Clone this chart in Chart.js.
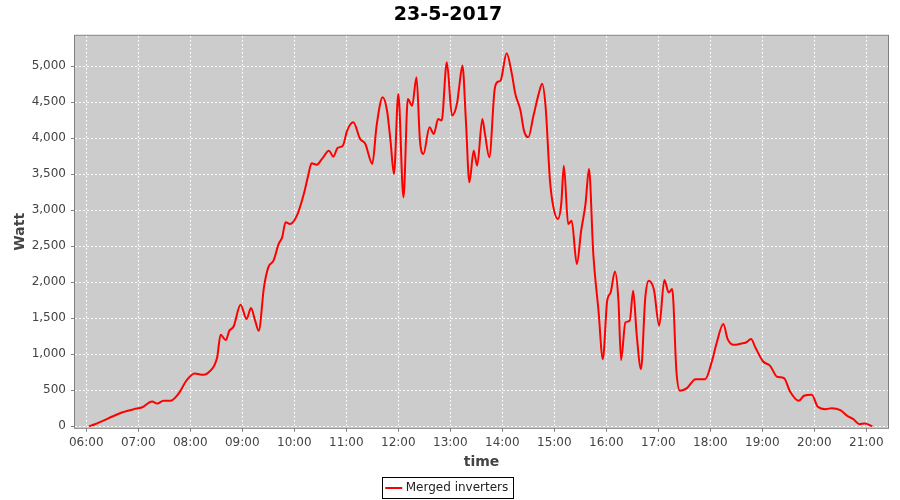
<!DOCTYPE html>
<html>
<head>
<meta charset="utf-8">
<script src="https://cdn.jsdelivr.net/npm/chart.js@4.4.0/dist/chart.umd.min.js"></script>
<style>
  html, body { margin: 0; padding: 0; background: #ffffff; }
  #wrap { width: 900px; height: 500px; }
</style>
</head>
<body>
<div id="wrap"><canvas id="myChart" width="900" height="500"></canvas></div>
<script>
// sample times (HH:MM) and power readings
const times = [
  "06:03", "06:10", "06:26", "06:41", "06:55", "07:04", "07:16", "07:22", "07:29", "07:37",
  "07:46", "07:56", "08:05", "08:15", "08:21", "08:31", "08:35", "08:41", "08:45", "08:50",
  "08:58", "09:05", "09:10", "09:15", "09:19", "09:25", "09:30", "09:36", "09:42", "09:46",
  "09:50", "09:55", "10:03", "10:11", "10:16", "10:20", "10:26", "10:32", "10:40", "10:45",
  "10:50", "10:56", "11:01", "11:08", "11:16", "11:22", "11:30", "11:35", "11:42", "11:47",
  "11:51", "11:55", "12:00", "12:06", "12:11", "12:16", "12:21", "12:25", "12:29", "12:36",
  "12:41", "12:46", "12:50", "12:56", "13:02", "13:08", "13:10", "13:14", "13:18", "13:22",
  "13:27", "13:31", "13:37", "13:40", "13:45", "13:51", "13:54", "13:58", "14:05", "14:11",
  "14:15", "14:21", "14:25", "14:30", "14:36", "14:42", "14:46", "14:50", "14:55", "14:59",
  "15:04", "15:08", "15:11", "15:16", "15:20", "15:26", "15:31", "15:36", "15:40", "15:45",
  "15:51", "15:56", "16:01", "16:05", "16:10", "16:14", "16:17", "16:22", "16:27", "16:31",
  "16:35", "16:40", "16:45", "16:49", "16:55", "17:01", "17:07", "17:12", "17:16", "17:21",
  "17:25", "17:33", "17:43", "17:54", "18:02", "18:07", "18:15", "18:20", "18:27", "18:36",
  "18:41", "18:47", "18:52", "19:01", "19:09", "19:17", "19:25", "19:32", "19:42", "19:48",
  "19:57", "20:04", "20:13", "20:20", "20:30", "20:38", "20:45", "20:52", "20:58", "21:07",
];
const watts = [
  0, 30, 114, 192, 239, 261, 344, 317, 354, 354,
  447, 642, 733, 715, 747, 956, 1271, 1197, 1326, 1386,
  1688, 1489, 1641, 1460, 1326, 1928, 2206, 2299, 2531, 2622,
  2831, 2808, 2924, 3225, 3479, 3650, 3632, 3711, 3826, 3743,
  3864, 3896, 4104, 4219, 3989, 3919, 3642, 4174, 4567, 4382,
  3965, 3503, 4614, 3178, 4544, 4451, 4844, 3965, 3781, 4150,
  4058, 4267, 4243, 5053, 4313, 4497, 4683, 5007, 4243, 3386,
  3826, 3618, 4267, 4058, 3733, 4660, 4775, 4799, 5178, 4891,
  4614, 4382, 4104, 4011, 4313, 4614, 4753, 4428, 3410, 3039,
  2878, 3086, 3618, 2808, 2854, 2253, 2715, 3086, 3572, 2392,
  1604, 933, 1743, 1858, 2150, 1743, 919, 1442, 1465, 1882,
  1280, 794, 1789, 2021, 1892, 1396, 2031, 1858, 1906, 747,
  493, 530, 655, 655, 910, 1142, 1419, 1211, 1132, 1150,
  1164, 1211, 1094, 900, 840, 688, 669, 483, 354, 424,
  438, 271, 239, 253, 225, 146, 100, 31, 39, 3,
];
const hourTicks = ["06:00", "07:00", "08:00", "09:00", "10:00", "11:00", "12:00", "13:00",
  "14:00", "15:00", "16:00", "17:00", "18:00", "19:00", "20:00", "21:00"];
const wattTicks = [0, 500, 1000, 1500, 2000, 2500, 3000, 3500, 4000, 4500, 5000];

// "HH:MM" -> minutes since midnight
const toMinutes = (s) => {
  const [h, m] = s.split(":").map(Number);
  return h * 60 + m;
};
const toLabel = (min) => {
  const h = Math.floor(min / 60);
  const m = min % 60;
  return String(h).padStart(2, "0") + ":" + String(m).padStart(2, "0");
};

const points = times.map((t, i) => ({ x: toMinutes(t), y: watts[i] }));

// gray plot area, outline and legend frame like the original
const plotFrame = {
  id: "plotFrame",
  beforeDraw(chart) {
    const { ctx, chartArea: { left, top, width, height } } = chart;
    ctx.save();
    ctx.fillStyle = "#cccccc";
    ctx.fillRect(left, top, width, height);
    ctx.restore();
  },
  afterDraw(chart) {
    const { ctx, chartArea: { left, top, width, height } } = chart;
    ctx.save();
    ctx.strokeStyle = "#808080";
    ctx.lineWidth = 1;
    ctx.strokeRect(left - 0.5, top - 0.5, width + 1, height + 1);
    const box = chart.legend.legendHitBoxes[0];
    if (box) {
      ctx.strokeStyle = "#000000";
      ctx.strokeRect(Math.round(box.left) - 5.5, Math.round(box.top) - 4.5,
        Math.round(box.width) + 10, Math.round(box.height) + 9);
    }
    ctx.restore();
  },
};

const config = {
  type: "line",
  data: {
    datasets: [
      {
        label: "Merged inverters",
        data: points,
        borderColor: "#ff0000",
        backgroundColor: "#ff0000",
        borderWidth: 2,
        pointRadius: 0,
        cubicInterpolationMode: "monotone",
        fill: false,
      },
    ],
  },
  options: {
    responsive: false,
    animation: false,
    layout: { padding: { left: 8, right: 12, top: 2, bottom: -4 } },
    plugins: {
      title: {
        display: true,
        text: "23-5-2017",
        color: "#000000",
        font: { family: "DejaVu Sans", size: 19, weight: "bold" },
        padding: { top: 2, bottom: 9 },
      },
      legend: {
        position: "bottom",
        labels: {
          usePointStyle: true,
          pointStyle: "line",
          boxWidth: 20,
          color: "#222222",
          font: { family: "DejaVu Sans", size: 12 },
          padding: 7,
        },
      },
      tooltip: { enabled: false },
    },
    scales: {
      x: {
        type: "linear",
        min: 347,
        max: 1285,
        afterBuildTicks: (scale) => {
          scale.ticks = hourTicks.map((t) => ({ value: toMinutes(t) }));
        },
        ticks: {
          autoSkip: false,
          maxRotation: 0,
          padding: 4,
          color: "#444444",
          font: { family: "DejaVu Sans", size: 12 },
          callback: (v) => toLabel(v),
        },
        grid: {
          color: "rgba(255,255,255,0.95)",
          lineWidth: 1,
          tickColor: "#808080",
          tickLength: 4,
          tickBorderDash: [],
        },
        border: { display: false, dash: [2, 2] },
        title: {
          display: true,
          text: "time",
          color: "#444444",
          font: { family: "DejaVu Sans", size: 14, weight: "bold" },
          padding: { top: 0, bottom: 4 },
        },
      },
      y: {
        min: -20,
        max: 5420,
        afterBuildTicks: (scale) => {
          scale.ticks = wattTicks.map((v) => ({ value: v }));
        },
        afterFit: (scale) => {
          scale.width = 67;
        },
        ticks: {
          padding: 5,
          color: "#444444",
          font: { family: "DejaVu Sans", size: 12 },
          callback: (v) => v.toLocaleString("en-US"),
        },
        grid: {
          color: "rgba(255,255,255,0.95)",
          lineWidth: 1,
          tickColor: "#808080",
          tickLength: 4,
          tickBorderDash: [],
        },
        border: { display: false, dash: [2, 2] },
        title: {
          display: true,
          text: "Watt",
          color: "#444444",
          font: { family: "DejaVu Sans", size: 14, weight: "bold" },
          padding: { top: 4, bottom: 0 },
        },
      },
    },
  },
  plugins: [plotFrame],
};

const myChart = new Chart(document.getElementById("myChart"), config);
</script>
</body>
</html>
